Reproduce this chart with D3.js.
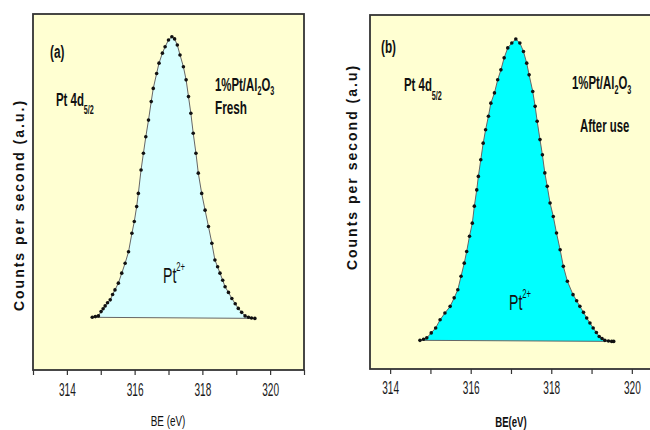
<!DOCTYPE html>
<html>
<head>
<meta charset="utf-8">
<script src="https://cdn.jsdelivr.net/npm/d3@7"></script>
<style>
  body { margin: 0; background: #fff; }
</style>
</head>
<body>
<svg id="chart" width="650" height="430"></svg>
<script>
// panel (a) fresh sample, binding energy (eV) vs counts (a.u.)
const beA = [314.75, 314.84, 314.93, 315.01, 315.07, 315.13, 315.2, 315.28, 315.35, 315.42,
  315.52, 315.62, 315.72, 315.82, 315.92, 315.99, 316.06, 316.11, 316.19, 316.26,
  316.33, 316.41, 316.49, 316.55, 316.65, 316.72, 316.82, 316.9, 317.0, 317.1,
  317.18, 317.26, 317.34, 317.44, 317.52, 317.59, 317.66, 317.73, 317.81, 317.88,
  317.98, 318.08, 318.18, 318.28, 318.37, 318.45, 318.52, 318.6, 318.67, 318.77,
  318.87, 318.97, 319.06, 319.16, 319.26, 319.36, 319.45, 319.55];
const countsA = [14.8, 15.0, 15.2, 16.4, 17.2, 18.0, 18.9, 19.7, 21.2, 22.5,
  24.4, 27.2, 30.0, 33.2, 38.4, 41.7, 45.9, 49.6, 56.2, 60.9,
  65.5, 70.2, 75.4, 79.1, 83.3, 86.2, 89.0, 90.8, 92.7, 93.6,
  93.0, 91.3, 88.5, 85.2, 81.5, 76.8, 72.1, 66.5, 60.9, 55.3,
  49.6, 44.9, 40.3, 35.6, 30.9, 29.0, 27.2, 25.2, 23.4, 21.8,
  20.1, 18.6, 17.3, 16.2, 15.2, 14.8, 14.6, 14.5];

// panel (b) after use
const beB = [314.74, 314.83, 314.91, 315.02, 315.13, 315.24, 315.36, 315.49, 315.59, 315.68,
  315.76, 315.84, 315.90, 315.97, 316.04, 316.09, 316.15, 316.19, 316.25, 316.31,
  316.37, 316.44, 316.50, 316.59, 316.67, 316.75, 316.83, 316.92, 317.02, 317.12,
  317.22, 317.31, 317.39, 317.45, 317.54, 317.60, 317.65, 317.72, 317.78, 317.84,
  317.90, 317.97, 318.05, 318.13, 318.22, 318.30, 318.40, 318.54, 318.63, 318.71,
  318.80, 318.88, 318.96, 319.04, 319.12, 319.19, 319.26, 319.33, 319.42, 319.50, 319.55];
const countsB = [8.1, 8.4, 8.8, 10.2, 11.6, 13.9, 15.8, 17.7, 20.1, 22.4,
  26.2, 29.9, 33.2, 37.5, 41.2, 46.0, 50.6, 54.4, 59.1, 63.8,
  67.6, 71.4, 75.1, 78.0, 81.7, 84.5, 87.9, 90.7, 92.1, 93.2,
  92.1, 89.7, 86.4, 83.1, 78.4, 74.2, 70.0, 64.8, 60.5, 55.4,
  51.6, 46.9, 43.1, 38.4, 33.7, 29.0, 24.8, 21.0, 19.3, 17.7,
  16.0, 14.4, 13.0, 11.6, 10.3, 9.2, 8.6, 8.1, 7.9, 7.8, 7.8];

const ticksA = [313, 314, 315, 316, 317, 318, 319, 320, 321];
const ticksB = [314, 315, 316, 317, 318, 319, 320];
const tickLabels = [314, 316, 318, 320];

const FONT = "'Liberation Sans', Arial, sans-serif";
const svg = d3.select("#chart");

// tall, narrow text like the original figure
function txt(x, y, size, weight, sx, anchor) {
  return svg.append("text")
    .attr("transform", `translate(${x},${y}) scale(${sx},1)`)
    .attr("font-family", FONT)
    .attr("font-size", size)
    .attr("font-weight", weight)
    .attr("text-anchor", anchor || "start")
    .attr("fill", "#111");
}

function panel(cfg) {
  let x = d3.scaleLinear().domain(cfg.xDomain).range([cfg.left, cfg.right]);
  let y = d3.scaleLinear().domain([0, 100]).range([cfg.bottom, cfg.top]);

  svg.append("rect")
    .attr("x", cfg.left).attr("y", cfg.top)
    .attr("width", cfg.right - cfg.left).attr("height", cfg.bottom - cfg.top)
    .attr("fill", "#ffffd2")
    .attr("stroke", "#333")
    .attr("stroke-width", 1.8);

  let axis = d3.axisBottom(x)
    .tickValues(cfg.ticks)
    .tickSize(5)
    .tickSizeOuter(0)
    .tickPadding(cfg.pad)
    .tickFormat(d => tickLabels.includes(d) ? d : "");
  let axG = svg.append("g")
    .attr("transform", `translate(0,${cfg.bottom})`)
    .call(axis);
  axG.select(".domain").remove();
  axG.selectAll("line").attr("stroke", "#333").attr("stroke-width", 1.2);
  axG.selectAll("text")
    .attr("font-family", FONT)
    .attr("font-size", 18)
    .attr("fill", "#1a1a1a")
    .attr("transform", "scale(0.56,1)");

  let pts = cfg.be.map((v, i) => [v, cfg.counts[i]]);
  let line = d3.line().x(d => x(d[0])).y(d => y(d[1]));

  svg.append("path")
    .attr("d", line(pts) + "Z")
    .attr("fill", cfg.fill)
    .attr("stroke", "#666")
    .attr("stroke-width", 1);

  svg.append("g")
    .selectAll("circle")
    .data(pts)
    .enter().append("circle")
    .attr("cx", d => x(d[0]))
    .attr("cy", d => y(d[1]))
    .attr("r", 1.8)
    .attr("fill", "#111");

  // y title
  svg.append("text")
    .attr("transform", `translate(${cfg.yTitle[0]},${cfg.yTitle[1]}) rotate(-90)`)
    .attr("font-family", FONT)
    .attr("font-size", 14)
    .attr("font-weight", cfg.yTitleWeight)
    .attr("letter-spacing", 2)
    .attr("text-anchor", "middle")
    .attr("fill", "#111")
    .text(cfg.yTitleText);

  return { x, y };
}

panel({
  left: 33, right: 304, top: 14, bottom: 370,
  xDomain: [313, 321], ticks: ticksA, pad: 8,
  be: beA, counts: countsA, fill: "#d8ffff",
  yTitle: [24, 205], yTitleText: "Counts per second (a.u.)", yTitleWeight: "bold"
});

panel({
  left: 370, right: 656, top: 15, bottom: 369,
  xDomain: [313.5, 320.6], ticks: ticksB, pad: 7,
  be: beB, counts: countsB, fill: "#00ffff",
  yTitle: [357, 167], yTitleText: "Counts per second (a.u)", yTitleWeight: "bold"
});

// annotations, panel (a)
txt(50, 58, 19, "bold", 0.62).text("(a)");
let t = txt(56, 106, 19, "bold", 0.6);
t.append("tspan").text("Pt 4d");
t.append("tspan").attr("font-size", 12).attr("dy", 8).text("5/2");
t = txt(215, 91, 19, "bold", 0.6);
t.append("tspan").text("1%Pt/Al");
t.append("tspan").attr("font-size", 12).attr("dy", 4).text("2");
t.append("tspan").attr("dy", -4).text("O");
t.append("tspan").attr("font-size", 12).attr("dy", 4).text("3");
txt(215, 114, 19, "bold", 0.62).text("Fresh");
t = txt(163, 283, 22, "normal", 0.64);
t.append("tspan").text("Pt");
t.append("tspan").attr("font-size", 12).attr("dy", -12).text("2+");
txt(168, 426, 15, "normal", 0.66, "middle").text("BE (eV)");

// annotations, panel (b)
txt(381, 53, 19, "bold", 0.62).text("(b)");
t = txt(404, 91, 19, "bold", 0.6);
t.append("tspan").text("Pt 4d");
t.append("tspan").attr("font-size", 12).attr("dy", 9).text("5/2");
t = txt(572, 89, 19, "bold", 0.6);
t.append("tspan").text("1%Pt/Al");
t.append("tspan").attr("font-size", 12).attr("dy", 5).text("2");
t.append("tspan").attr("dy", -5).text("O");
t.append("tspan").attr("font-size", 12).attr("dy", 5).text("3");
txt(580, 132, 19, "bold", 0.6).text("After use");
t = txt(509, 310, 22, "normal", 0.64);
t.append("tspan").text("Pt");
t.append("tspan").attr("font-size", 12).attr("dy", -12).text("2+");
txt(511, 427, 15, "bold", 0.64, "middle").text("BE(eV)");
</script>
</body>
</html>
